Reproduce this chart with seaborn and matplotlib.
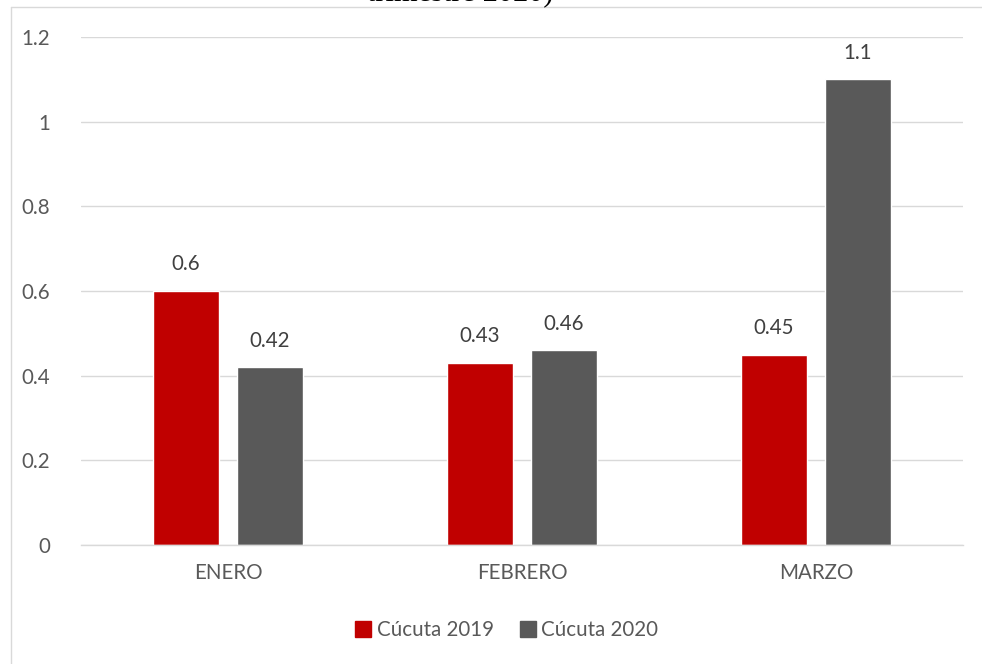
import matplotlib
matplotlib.use("Agg")
import matplotlib.pyplot as plt
from matplotlib.lines import Line2D
import seaborn as sns
import pandas as pd

months = ["ENERO", "FEBRERO", "MARZO"]
series_names = ["Cúcuta 2019", "Cúcuta 2020"]
values_2019 = [0.6, 0.43, 0.45]
values_2020 = [0.42, 0.46, 1.1]
label_2019 = ["0.6", "0.43", "0.45"]
label_2020 = ["0.42", "0.46", "1.1"]
yticks = [0, 0.2, 0.4, 0.6, 0.8, 1, 1.2]
ytick_labels = ["0", "0.2", "0.4", "0.6", "0.8", "1", "1.2"]
title_fragment = "trimestre 2020)"

df = pd.DataFrame({
    "mes": months * 2,
    "serie": [series_names[0]] * 3 + [series_names[1]] * 3,
    "valor": values_2019 + values_2020,
})

sns.set_theme(style="white")
plt.rcParams["font.family"] = ["Lato", "DejaVu Sans"]

W, H = 982, 664
FS = 14.8
fig = plt.figure(figsize=(W / 100, H / 100), dpi=100)
ax = fig.add_axes([81 / W, 1 - 545 / H, (963 - 81) / W, (545 - 37) / H])

palette = {series_names[0]: "#c00000", series_names[1]: "#595959"}
sns.barplot(data=df, x="mes", y="valor", hue="serie", order=months,
            hue_order=series_names, palette=palette, width=0.571, gap=0.214,
            ax=ax, legend=False, saturation=1, errorbar=None)

ax.set_ylim(0, 1.2)
ax.set_xlim(-0.5, 2.5)
ax.set_yticks(yticks)
ax.set_yticklabels(ytick_labels)
ax.yaxis.grid(True, color="#d9d9d9", linewidth=1)
ax.set_axisbelow(True)
for s in ["top", "right", "left"]:
    ax.spines[s].set_visible(False)
ax.spines["bottom"].set_color("#d9d9d9")
ax.spines["bottom"].set_linewidth(1)
ax.tick_params(axis="both", length=0, labelsize=FS, colors="#595959")
ax.tick_params(axis="y", pad=22)
ax.tick_params(axis="x", pad=13)
ax.set_xlabel("")
ax.set_ylabel("")

for cont, labs in zip(ax.containers, [label_2019, label_2020]):
    ax.bar_label(cont, labels=labs, padding=12, fontsize=FS, color="#404040")

handles = [Line2D([], [], marker="s", linestyle="none", markersize=11,
                  markerfacecolor=palette[n], markeredgecolor=palette[n], label=n)
           for n in series_names]
fig.legend(handles=handles, loc="center", bbox_to_anchor=(504 / W, 1 - 630 / H),
           ncol=2, frameon=False, fontsize=FS, handletextpad=0.0,
           columnspacing=1.0, handlelength=1.3, labelcolor="#595959")

# outer chart border (partially visible)
fig.add_artist(Line2D([11 / W, 11 / W], [0, 1 - 7 / H], color="#d9d9d9", lw=1,
                      transform=fig.transFigure))
fig.add_artist(Line2D([11 / W, 1], [1 - 7 / H, 1 - 7 / H], color="#d9d9d9", lw=1,
                      transform=fig.transFigure))

fig.text(460 / W, 1 - 0.5 / H, title_fragment, ha="center", va="baseline",
         fontsize=22, family=["Liberation Serif"], color="#000000")

fig.savefig("out.png", dpi=100)
